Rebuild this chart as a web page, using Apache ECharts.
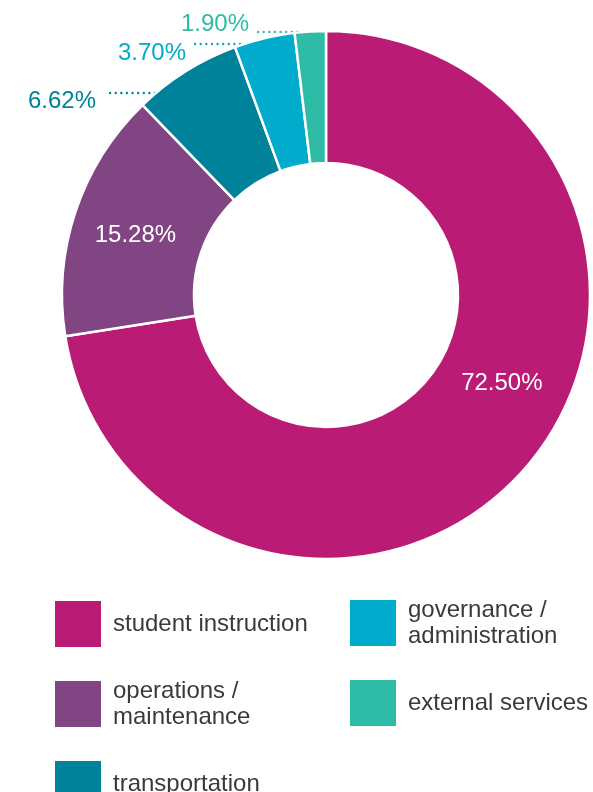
<!DOCTYPE html>
<html>
<head>
<meta charset="utf-8">
<script src="https://cdn.jsdelivr.net/npm/echarts@6/dist/echarts.min.js"></script>
<style>
  html, body { margin: 0; padding: 0; background: #ffffff; }
  #chart { width: 593px; height: 792px; }
</style>
</head>
<body>
<div id="chart"></div>
<script>
// Spending by function, share of total (%)
const categories = [
  'student instruction',
  'operations / maintenance',
  'transportation',
  'governance / administration',
  'external services'
];
const shares = [72.50, 15.28, 6.62, 3.70, 1.90];
const colors = ['#BA1C75', '#824583', '#00829A', '#00ABCB', '#2FBCA7'];
const legendLines = {
  'operations / maintenance': 'operations /\nmaintenance',
  'governance / administration': 'governance /\nadministration'
};

const FONT = '"Liberation Sans", Arial, Helvetica, sans-serif';

// Leader placement for the three thin slices (dotted rule + right-aligned text)
const callouts = {
  2: { lineY: 93, x0: 106, x1: 155, textX: 96, textY: 101 },
  3: { lineY: 44, x0: 191, x1: 240, textX: 186, textY: 53 },
  4: { lineY: 32, x0: 254, x1: 303, textX: 249, textY: 24 }
};
const insideOffsets = { 0: [23, -42], 1: [0, 4] };

// Legend slots: two columns of square swatches
const legendSlots = [
  { left: 55, top: 601 },
  { left: 55, top: 678 },
  { left: 55, top: 761 },
  { left: 350, top: 597 },
  { left: 350, top: 680 }
];

const pieData = categories.map((name, i) => {
  const item = { name: name, value: shares[i], itemStyle: { color: colors[i] } };
  if (i in insideOffsets) {
    item.label = { position: 'inside', color: '#ffffff', offset: insideOffsets[i] };
    item.labelLine = { show: false };
  } else {
    item.label = { position: 'outside', color: colors[i] };
    item.labelLine = {
      show: true,
      lineStyle: { color: colors[i], width: 2.4, cap: 'round', type: [0.01, 5.6] }
    };
  }
  return item;
});

const legends = categories.map((name, i) => ({
  data: [name],
  left: legendSlots[i].left,
  top: legendSlots[i].top,
  orient: 'vertical',
  padding: 0,
  icon: 'rect',
  itemWidth: 46,
  itemHeight: 46,
  selectedMode: false,
  itemStyle: { borderWidth: 0 },
  formatter: n => legendLines[n] || n,
  textStyle: {
    fontFamily: FONT,
    fontSize: 24,
    lineHeight: 26,
    color: '#3a3a3a',
    padding: [0, 0, 0, 7]
  }
}));

const chart = echarts.init(document.getElementById('chart'), null, { renderer: 'canvas' });
chart.setOption({
  animation: false,
  backgroundColor: '#ffffff',
  legend: legends,
  series: [{
    type: 'pie',
    center: [326, 295],
    radius: [132, 264],
    startAngle: 90,
    clockwise: true,
    avoidLabelOverlap: false,
    silent: true,
    itemStyle: { borderColor: '#ffffff', borderWidth: 2.5 },
    label: {
      show: true,
      fontFamily: FONT,
      fontSize: 24,
      formatter: p => p.value.toFixed(2) + '%'
    },
    labelLayout: params => {
      const c = callouts[params.dataIndex];
      if (!c) return {};
      return {
        x: c.textX,
        y: c.textY,
        align: 'right',
        verticalAlign: 'middle',
        labelLinePoints: [[c.x1, c.lineY], [(c.x0 + c.x1) / 2, c.lineY], [c.x0, c.lineY]]
      };
    },
    data: pieData
  }]
});
</script>
</body>
</html>
